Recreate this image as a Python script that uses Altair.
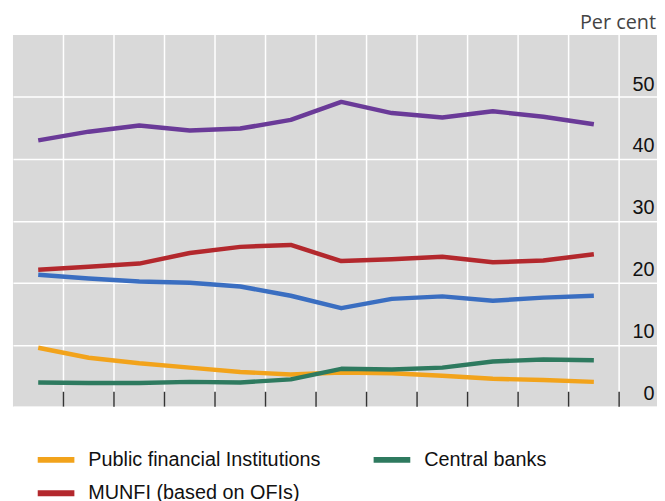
import altair as alt
import pandas as pd

year_labels = ["02", "03", "04", "05", "06", "07", "08", "09", "10", "11", "12", "13"]
years = [2000 + int(s) for s in year_labels]

series_names = [
    "Public financial Institutions",
    "Central banks",
    "MUNFI (based on OFIs)",
    "Banks",
    "Insurance companies and pension funds",
]
series_colors = ["#F2A31B", "#2E7A5F", "#B3282D", "#6A3A98", "#3A6EC1"]

public_fi = [9.5, 7.9, 7.0, 6.3, 5.6, 5.2, 5.5, 5.4, 5.0, 4.5, 4.3, 4.0]
central_banks = [3.9, 3.8, 3.8, 4.0, 3.9, 4.4, 6.1, 6.0, 6.3, 7.3, 7.6, 7.5]
munfi = [22.1, 22.6, 23.1, 24.8, 25.8, 26.1, 23.5, 23.8, 24.2, 23.3, 23.6, 24.6]
banks = [43.0, 44.4, 45.4, 44.6, 44.9, 46.3, 49.2, 47.4, 46.7, 47.7, 46.8, 45.6]
icpf = [21.3, 20.7, 20.2, 20.0, 19.4, 17.9, 15.9, 17.4, 17.8, 17.1, 17.6, 17.9]

y_ticks = [0, 10, 20, 30, 40, 50]

series_values = [public_fi, central_banks, munfi, banks, icpf]
rows = []
for name, vals in zip(series_names, series_values):
    for yr, v in zip(years, vals):
        rows.append({"year": yr, "value": v, "series": name, "order": series_names.index(name)})
df = pd.DataFrame(rows)

bounds = pd.DataFrame({"b": [y + 0.5 for y in years]})

W, H = 650, 375
xscale = alt.Scale(domain=[years[0] - 0.5, years[-1] + 1.25], nice=False, zero=False)
yscale = alt.Scale(domain=[0, 60], nice=False, zero=True)

vgrid = alt.Chart(bounds).mark_rule(color="white", strokeWidth=1.5).encode(
    x=alt.X("b:Q", scale=xscale, axis=None)
)

ticks = alt.Chart(bounds).mark_rule(color="#333333", strokeWidth=1.5).encode(
    x=alt.X("b:Q", scale=xscale, axis=None),
    y=alt.value(H),
    y2=alt.value(H - 15),
)

lines = alt.Chart(df).mark_line(strokeWidth=4.5, strokeJoin="round", strokeCap="butt").encode(
    x=alt.X(
        "year:Q",
        scale=xscale,
        axis=alt.Axis(
            values=years,
            labelExpr="substring(toString(datum.value), 2)",
            ticks=False,
            domain=False,
            grid=False,
            labelFontSize=18,
            labelFont="Liberation Sans",
            labelColor="#111111",
            labelPadding=13,
            labelBaseline="top",
            labelFlush=False,
            title=None,
        ),
    ),
    y=alt.Y(
        "value:Q",
        scale=yscale,
        axis=alt.Axis(
            orient="right",
            values=y_ticks,
            grid=True,
            gridColor="white",
            gridWidth=1.5,
            ticks=False,
            tickSize=0,
            domain=False,
            labelAlign="right",
            labelPadding=-3,
            labelBaseline="alphabetic",
            labelOffset=-7,
            labelFontSize=20,
            labelFont="Liberation Sans",
            labelColor="#111111",
            title=None,
        ),
    ),
    color=alt.Color(
        "series:N",
        scale=alt.Scale(domain=series_names, range=series_colors),
        legend=alt.Legend(
            values=series_names[:3],
            orient="none",
            direction="horizontal",
            legendX=22,
            legendY=407,
            columns=2,
            symbolType="stroke",
            symbolSize=1369,
            symbolStrokeWidth=6,
            labelFontSize=20,
            labelFont="Liberation Sans",
            labelColor="#111111",
            labelOffset=11,
            labelLimit=400,
            columnPadding=41,
            rowPadding=-15,
            title=None,
        ),
    ),
    detail="series:N",
    order=alt.Order("order:Q"),
)

chart = (
    alt.layer(vgrid, ticks, lines)
    .properties(
        width=W,
        height=H,
        autosize=alt.AutoSizeParams(type="none"),
        padding={"left": 5, "top": 25, "right": 0, "bottom": 100},
        title=alt.TitleParams(
            "Per cent",
            anchor="end",
            frame="group",
            orient="top",
            offset=6,
            dy=21,
            dx=-1,
            fontSize=20,
            font="Open Sans",
            fontWeight="normal",
            color="#444444",
            baseline="alphabetic",
        ),
    )
    .configure_view(fill="#D9D9D9", strokeWidth=0)
)

chart.save("out.html", embed_options={"renderer": "svg", "actions": False})
